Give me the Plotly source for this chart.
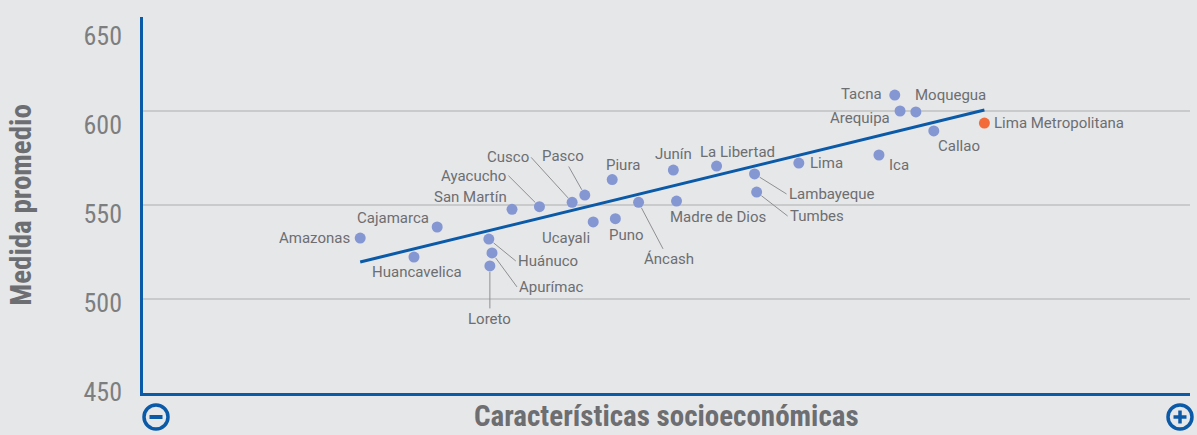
import plotly.graph_objects as go

# Regional averages: socioeconomic index (x) vs. average score (y)
regions = [
    "Amazonas", "Huancavelica", "Cajamarca", "Huánuco", "Apurímac", "Loreto",
    "San Martín", "Ayacucho", "Cusco", "Pasco", "Piura", "Ucayali", "Puno",
    "Áncash", "Junín", "Madre de Dios", "La Libertad", "Lambayeque", "Tumbes",
    "Lima", "Ica", "Tacna", "Arequipa", "Moquegua", "Callao", "Lima Metropolitana",
]
socio_index = [
    20.6, 25.7, 27.9, 32.8, 33.1, 32.9,
    35.0, 37.6, 40.7, 41.9, 44.5, 42.7, 44.8,
    47.0, 50.3, 50.6, 54.4, 58.0, 58.2,
    62.2, 69.8, 71.3, 71.8, 73.3, 75.0, 79.8,
]
avg_score = [
    532.4, 522.3, 538.3, 531.9, 524.5, 517.6,
    547.7, 549.1, 551.4, 555.3, 563.5, 541.0, 542.7,
    551.4, 568.6, 552.1, 570.7, 566.5, 556.9,
    572.3, 576.6, 608.5, 600.0, 599.5, 589.4, 593.6,
]
highlight = "Lima Metropolitana"

# Fitted trend line end points
trend_x = [20.6, 79.8]
trend_y = [519.7, 600.5]

y_ticks = [450, 500, 550, 600, 650]

x_title = "Características socioeconómicas"
y_title = "Medida promedio"

BG = "#e6e7e9"
BLUE = "#0b5aa8"
DOT = "#8597d3"
ORANGE = "#f26b38"
GREY_TXT = "#6d6e71"
GRID = "#c9cacc"
LEADER = "#8e8f92"
LABEL_FONT = dict(family="Roboto, Liberation Sans, sans-serif", size=15, color=GREY_TXT)
NARROW = "Liberation Sans Narrow, Roboto Condensed, Arial Narrow, sans-serif"
TITLE_FONT = dict(family=NARROW, size=29, color=GREY_TXT)

# Label placement: (xanchor, xshift, yshift) for plain labels,
# ("arrow", xanchor, ax, ay) for labels joined to their dot by a leader line.
placement = {
    "Amazonas": ("right", -8, 0),
    "Huancavelica": ("center", 3, -15),
    "Cajamarca": ("right", -6, 9.5),
    "Huánuco": ("arrow", "left", 27, 22),
    "Apurímac": ("arrow", "left", 25, 34),
    "Loreto": ("arrow", "center", 0, 53),
    "San Martín": ("right", -3, 12.5),
    "Ayacucho": ("arrow", "right", -31, -31),
    "Cusco": ("arrow", "right", -41, -45),
    "Pasco": ("arrow", "center", -22, -39),
    "Piura": ("center", 11, 14.5),
    "Ucayali": ("right", -1, -16),
    "Puno": ("center", 11, -16.5),
    "Áncash": ("arrow", "center", 30, 57),
    "Junín": ("center", 0, 16),
    "Madre de Dios": ("left", -9, -16),
    "La Libertad": ("center", 21, 14.5),
    "Lambayeque": ("arrow", "left", 32, 20),
    "Tumbes": ("arrow", "left", 31, 24),
    "Lima": ("left", 9, 0),
    "Ica": ("left", 8, -10),
    "Tacna": ("right", -11, 1),
    "Arequipa": ("right", -8, -6.5),
    "Moquegua": ("left", -3, 16.5),
    "Callao": ("left", 2, -15),
    "Lima Metropolitana": ("left", 8, 0),
}

fig = go.Figure()

fig.add_trace(go.Scatter(
    x=trend_x, y=trend_y, mode="lines",
    line=dict(color=BLUE, width=3), hoverinfo="skip", showlegend=False,
))

fig.add_trace(go.Scatter(
    x=socio_index, y=avg_score, mode="markers", text=regions,
    marker=dict(size=11, color=[ORANGE if r == highlight else DOT for r in regions]),
    hovertemplate="%{text}<br>%{y}<extra></extra>", showlegend=False,
))

# Carrier trace for the axis that holds the score tick labels
fig.add_trace(go.Scatter(x=[None], y=[None], yaxis="y2", hoverinfo="skip", showlegend=False))

annotations = []
for name, xv, yv in zip(regions, socio_index, avg_score):
    p = placement[name]
    if p[0] == "arrow":
        _, anchor, ax, ay = p
        annotations.append(dict(
            x=xv, y=yv, xref="x", yref="y", text=name, showarrow=True,
            ax=ax, ay=ay, xanchor=anchor, yanchor="middle",
            arrowhead=0, arrowwidth=1, arrowcolor=LEADER,
            standoff=6, font=LABEL_FONT, borderpad=1,
        ))
    else:
        anchor, xs, ys = p
        annotations.append(dict(
            x=xv, y=yv, xref="x", yref="y", text=name, showarrow=False,
            xanchor=anchor, yanchor="middle", xshift=xs, yshift=ys, font=LABEL_FONT,
        ))

# Horizontal axis title, resting on the bottom edge of the figure
annotations.append(dict(
    x=0.5, y=0, xref="paper", yref="paper", text=f"<b>{x_title}</b>", showarrow=False,
    xanchor="center", yanchor="bottom", yshift=-41, borderpad=0, font=TITLE_FONT,
))

# Minus / plus symbols at the ends of the horizontal axis
shapes = [
    dict(type="circle", xref="paper", yref="paper", xsizemode="pixel", ysizemode="pixel",
         xanchor=0, yanchor=0, x0=1, x1=25, y0=-36, y1=-12,
         line=dict(color=BLUE, width=3.5)),
    dict(type="line", xref="paper", yref="paper", xsizemode="pixel", ysizemode="pixel",
         xanchor=0, yanchor=0, x0=6.5, x1=19.5, y0=-24, y1=-24,
         line=dict(color=BLUE, width=4)),
    dict(type="circle", xref="paper", yref="paper", xsizemode="pixel", ysizemode="pixel",
         xanchor=1, yanchor=0, x0=-22, x1=2, y0=-36, y1=-12,
         line=dict(color=BLUE, width=3.5)),
    dict(type="line", xref="paper", yref="paper", xsizemode="pixel", ysizemode="pixel",
         xanchor=1, yanchor=0, x0=-16.5, x1=-3.5, y0=-24, y1=-24,
         line=dict(color=BLUE, width=3.5)),
    dict(type="line", xref="paper", yref="paper", xsizemode="pixel", ysizemode="pixel",
         xanchor=1, yanchor=0, x0=-10, x1=-10, y0=-30.5, y1=-17.5,
         line=dict(color=BLUE, width=3.5)),
]

fig.update_layout(
    width=1197, height=435,
    margin=dict(l=143, r=7, t=17, b=42),
    paper_bgcolor=BG, plot_bgcolor=BG,
    annotations=annotations, shapes=shapes,
    xaxis=dict(
        range=[0, 99.3], showgrid=False, zeroline=False, showticklabels=False, ticks="",
        showline=True, linecolor=BLUE, linewidth=3, fixedrange=True, automargin=False,
    ),
    yaxis=dict(
        range=[450, 650], tickvals=y_ticks, showticklabels=False, ticks="",
        showgrid=True, gridcolor=GRID, gridwidth=1.5, zeroline=False,
        showline=True, linecolor=BLUE, linewidth=3, fixedrange=True, automargin=False,
        title=dict(text=f"<b>{y_title}</b>", standoff=100, font=TITLE_FONT),
    ),
    yaxis2=dict(
        overlaying="y", side="left", anchor="x", range=[449.3, 660.7],
        tickvals=y_ticks, ticktext=[str(v) for v in y_ticks], ticks="",
        ticklabelstandoff=20, showgrid=False, zeroline=False, showline=False,
        tickfont=dict(family=NARROW, size=26, color="#7d7e80"),
        fixedrange=True, automargin=False,
    ),
)

fig.write_html("out.html")
